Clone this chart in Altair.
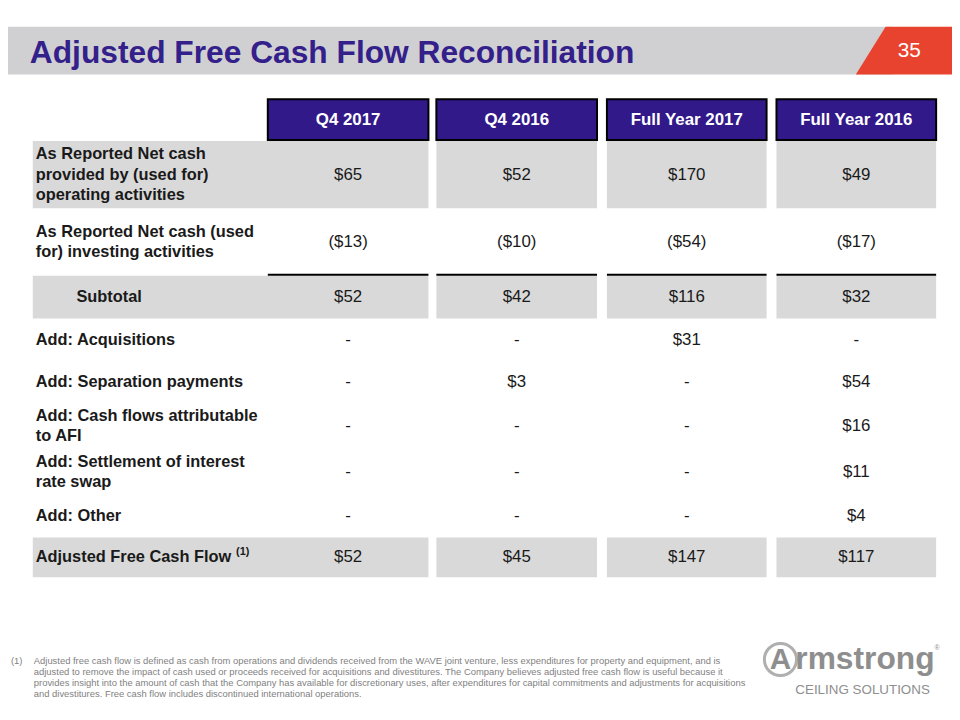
import altair as alt
import pandas as pd

# ---------------- data ----------------
title_text = "Adjusted Free Cash Flow Reconciliation"
page_number = "35"
columns = ["Q4 2017", "Q4 2016", "Full Year 2017", "Full Year 2016"]
row_labels = [
    ["As Reported Net cash", "provided by (used for)", "operating activities"],
    ["As Reported Net cash (used", "for) investing activities"],
    ["Subtotal"],
    ["Add: Acquisitions"],
    ["Add: Separation payments"],
    ["Add: Cash flows attributable", "to AFI"],
    ["Add: Settlement of interest", "rate swap"],
    ["Add: Other"],
    ["Adjusted Free Cash Flow"],
]
q4_2017 = ["$65", "($13)", "$52", "-", "-", "-", "-", "-", "$52"]
q4_2016 = ["$52", "($10)", "$42", "-", "$3", "-", "-", "-", "$45"]
fy_2017 = ["$170", "($54)", "$116", "$31", "-", "-", "-", "-", "$147"]
fy_2016 = ["$49", "($17)", "$32", "-", "$54", "$16", "$11", "$4", "$117"]
footnote_marker = "(1)"
footnote_lines = [
    "Adjusted free cash flow is defined as cash from operations and dividends received from the WAVE joint venture, less expenditures for property and equipment, and is",
    "adjusted to remove the impact of cash used or proceeds received for acquisitions and divestitures. The Company believes adjusted free cash flow is useful because it",
    "provides insight into the amount of cash that the Company has available for discretionary uses, after expenditures for capital commitments and adjustments for acquisitions",
    "and divestitures.  Free cash flow includes discontinued international operations.",
]

# ---------------- layout ----------------
col_left = [270, 440, 612, 783]
col_right = [432, 602, 773, 944]
row_top = [139, 207, 275, 318, 361, 403, 450, 496, 539]
row_bottom = [207, 275, 318, 361, 403, 450, 496, 539, 579]
row_gray = [True, False, True, False, False, False, False, False, True]
label_x = [36, 36, 77, 36, 36, 36, 36, 36, 36]
line_h = 21

PURPLE = "#32198A"
GRAY = "#D9D9D9"
TEXT = "#1A1A1A"
FONT = "Liberation Sans"

X = alt.Scale(domain=[8, 960], nice=False, zero=False)
Y = alt.Scale(domain=[8, 720], nice=False, zero=False, reverse=True)


def xq(f):
    return alt.X(f + ":Q", scale=X, axis=None)


def yq(f):
    return alt.Y(f + ":Q", scale=Y, axis=None)


# gray row backgrounds
bg = []
for i, g in enumerate(row_gray):
    if not g:
        continue
    lefts = [33] + col_left[1:]
    for l, r in zip(lefts, col_right):
        bg.append({"x": l, "x2": r, "y": row_top[i], "y2": row_bottom[i]})
bg_df = pd.DataFrame(bg)

# header cells
hdr_df = pd.DataFrame({
    "x": col_left, "x2": col_right, "y": [97] * 4, "y2": [138] * 4,
    "xc": [(l + r) / 2 for l, r in zip(col_left, col_right)],
    "yc": [117.5] * 4, "label": columns,
})

# value cells
vals = [q4_2017, q4_2016, fy_2017, fy_2016]
cells = []
for j, col in enumerate(vals):
    for i, v in enumerate(col):
        cells.append({"x": (col_left[j] + col_right[j]) / 2,
                      "y": (row_top[i] + row_bottom[i]) / 2, "t": v})
cell_df = pd.DataFrame(cells)

# labels
labs = []
for i, lines in enumerate(row_labels):
    c = (row_top[i] + row_bottom[i]) / 2
    n = len(lines)
    for k, t in enumerate(lines):
        labs.append({"x": label_x[i], "y": c + (k - (n - 1) / 2) * line_h, "t": t})
lab_df = pd.DataFrame(labs)

# subtotal rules
rule_df = pd.DataFrame({"x": col_left, "x2": col_right, "y": [274] * 4})

title_bar = alt.Chart(pd.DataFrame({"x": [0], "x2": [900], "y": [24], "y2": [72]})).mark_rect(
    color="#D0D0D2").encode(x=xq("x"), x2="x2", y=yq("y"), y2="y2")
red_df = pd.DataFrame({"x": [863, 893, 960], "y": [72, 24, 24], "y2": [72, 72, 72]})
red = alt.Chart(red_df).mark_area(color="#E8432F", interpolate="linear").encode(
    x=xq("x"), y=yq("y"), y2="y2")
title = alt.Chart(pd.DataFrame({"x": [30], "y": [60], "t": [title_text]})).mark_text(
    align="left", baseline="alphabetic", font=FONT,
    fontSize=32, fontWeight="bold", color="#33208A").encode(x=xq("x"), y=yq("y"), text="t:N")
pnum = alt.Chart(pd.DataFrame({"x": [917], "y": [48], "t": [page_number]})).mark_text(
    align="center", baseline="middle", font=FONT,
    fontSize=21, color="white").encode(x=xq("x"), y=yq("y"), text="t:N")

bg_layer = alt.Chart(bg_df).mark_rect(color=GRAY).encode(x=xq("x"), x2="x2", y=yq("y"), y2="y2")
hdr_rect = alt.Chart(hdr_df).mark_rect(color=PURPLE, stroke="black", strokeWidth=2).encode(
    x=xq("x"), x2="x2", y=yq("y"), y2="y2")
hdr_text = alt.Chart(hdr_df).mark_text(font=FONT, fontSize=17, fontWeight="bold", color="white",
                                       baseline="middle").encode(x=xq("xc"), y=yq("yc"), text="label:N")
rules = alt.Chart(rule_df).mark_rule(color="black", strokeWidth=2).encode(x=xq("x"), x2="x2", y=yq("y"))
cell_text = alt.Chart(cell_df).mark_text(font=FONT, fontSize=17, color=TEXT, baseline="middle").encode(
    x=xq("x"), y=yq("y"), text="t:N")
lab_text = alt.Chart(lab_df).mark_text(font=FONT, fontSize=16.5, fontWeight="bold", color=TEXT,
                                       align="left", baseline="middle").encode(
    x=xq("x"), y=yq("y"), text="t:N")
sup = alt.Chart(pd.DataFrame({"x": [238], "y": [554], "t": [footnote_marker]})).mark_text(
    font=FONT, fontSize=11, fontWeight="bold", color=TEXT, align="left", baseline="middle").encode(
    x=xq("x"), y=yq("y"), text="t:N")

foot_df = pd.DataFrame({"x": [34] * len(footnote_lines),
                        "y": [664 + 11 * k for k in range(len(footnote_lines))],
                        "t": footnote_lines})
foot = alt.Chart(foot_df).mark_text(font=FONT, fontSize=9.5, color="#7F7F7F", align="left",
                                    baseline="middle").encode(x=xq("x"), y=yq("y"), text="t:N")
foot_mark = alt.Chart(pd.DataFrame({"x": [11], "y": [664], "t": [footnote_marker]})).mark_text(
    font=FONT, fontSize=9.5, color="#7F7F7F", align="left", baseline="middle").encode(
    x=xq("x"), y=yq("y"), text="t:N")

# logo
logo_circle = alt.Chart(pd.DataFrame({"x": [787], "y": [662]})).mark_point(
    shape="circle", size=1050, filled=False, stroke="#8E8E8E", strokeWidth=3).encode(
    x=xq("x"), y=yq("y"))
logo_a = alt.Chart(pd.DataFrame({"x": [787], "y": [672], "t": ["A"]})).mark_text(
    font=FONT, fontSize=30, fontWeight="bold", color="#8E8E8E", align="center",
    baseline="alphabetic").encode(x=xq("x"), y=yq("y"), text="t:N")
logo_rest = alt.Chart(pd.DataFrame({"x": [802], "y": [672], "t": ["rmstrong"]})).mark_text(
    font=FONT, fontSize=32, fontWeight="bold", color="#8E8E8E", align="left",
    baseline="alphabetic").encode(x=xq("x"), y=yq("y"), text="t:N")
logo_reg = alt.Chart(pd.DataFrame({"x": [945], "y": [650], "t": ["®"]})).mark_text(
    font=FONT, fontSize=7, color="#8E8E8E", align="center", baseline="middle").encode(
    x=xq("x"), y=yq("y"), text="t:N")
logo_sub = alt.Chart(pd.DataFrame({"x": [802], "y": [693], "t": ["CEILING SOLUTIONS"]})).mark_text(
    font=FONT, fontSize=13.5, color="#8E8E8E", align="left", baseline="middle").encode(
    x=xq("x"), y=yq("y"), text="t:N")

chart = alt.layer(
    title_bar, red, title, pnum, bg_layer, hdr_rect, hdr_text, rules, cell_text, lab_text, sup,
    foot, foot_mark, logo_circle, logo_a, logo_rest, logo_reg, logo_sub,
).properties(width=952, height=712, padding=0, autosize=alt.AutoSizeParams(type="none"),
             background="white").configure_view(stroke=None)

chart.save("out.html", embed_options={"renderer": "svg", "actions": False})
